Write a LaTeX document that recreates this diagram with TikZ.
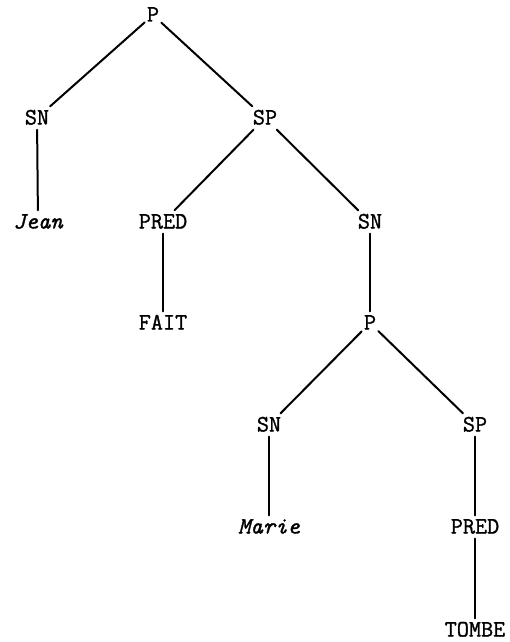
\documentclass[tikz,border=0pt]{standalone}
\usepackage{fontspec}
\setmonofont{Latin Modern Mono}[FakeBold=1.2, AutoFakeBold=1.2]
\begin{document}
\begin{tikzpicture}[x=1pt,y=-1pt,
  lbl/.style={font=\ttfamily\bfseries\fontsize{23.5}{23.5}\selectfont, inner xsep=2pt, inner ysep=5pt, text height=13pt, text depth=0pt, anchor=center},
  wrd/.style={lbl, font=\ttfamily\bfseries\itshape\fontsize{23.5}{23.5}\selectfont},
  edge/.style={line width=2pt, line cap=round}]
\useasboundingbox (0,0) rectangle (509,642);
\node[lbl] (p1) at (153,15) {P};
\node[lbl] (sn1) at (37,118) {SN};
\node[lbl] (sp1) at (265,118) {SP};
\node[wrd] (jean) at (38,222) {Jean};
\node[lbl] (pred1) at (163,222) {PRED};
\node[lbl] (sn2) at (370,222) {SN};
\node[lbl] (fait) at (163,323) {FAIT};
\node[lbl] (p2) at (370,323) {P};
\node[lbl] (sn3) at (269,425) {SN};
\node[wrd] (marie) at (269,527) {Marie};
\node[lbl] (sp2) at (475,425) {SP};
\node[lbl] (pred2) at (475,527) {PRED};
\node[lbl] (tombe) at (475,630) {TOMBE};
\draw[edge] (p1) -- (sn1);
\draw[edge] (p1) -- (sp1);
\draw[edge] (sn1) -- (jean);
\draw[edge] (sp1) -- (pred1);
\draw[edge] (sp1) -- (sn2);
\draw[edge] (pred1) -- (fait);
\draw[edge] (sn2) -- (p2);
\draw[edge] (p2) -- (sn3);
\draw[edge] (p2) -- (sp2);
\draw[edge] (sn3) -- (marie);
\draw[edge] (sp2) -- (pred2);
\draw[edge] (pred2) -- (tombe);
\end{tikzpicture}
\end{document}
